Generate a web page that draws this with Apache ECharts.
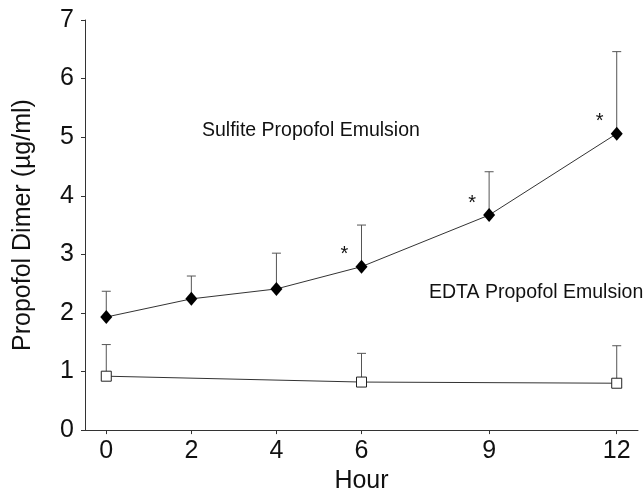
<!DOCTYPE html>
<html>
<head>
<meta charset="utf-8">
<script src="https://cdn.jsdelivr.net/npm/echarts@6.0.0/dist/echarts.min.js"></script>
<style>
  html, body { margin: 0; padding: 0; background: #fff; }
  #chart { width: 644px; height: 499px; }
</style>
</head>
<body>
<div id="chart"></div>
<script>
// hours and values
var hours = [0, 2, 4, 6, 9, 12];
var sulfiteMean = [1.93, 2.24, 2.41, 2.79, 3.67, 5.06];
var sulfiteTop  = [2.37, 2.63, 3.02, 3.50, 4.41, 6.46];
var sulfiteStar = [false, false, false, true, true, true];

var edtaHours = [0, 6, 12];
var edtaMean  = [0.92, 0.82, 0.80];
var edtaTop   = [1.46, 1.31, 1.44];

var yTicks = [0, 1, 2, 3, 4, 5, 6, 7];

var FONT = 'Liberation Sans, Arial, sans-serif';

var chart = echarts.init(document.getElementById('chart'));

// error bars, upward only, with a small cap
function errorBar(params, api) {
  var x = api.value(0);
  var lo = api.coord([x, api.value(1)]);
  var hi = api.coord([x, api.value(2)]);
  var cap = 4.5;
  var st = { stroke: '#555', lineWidth: 1 };
  return {
    type: 'group',
    children: [
      { type: 'line', shape: { x1: lo[0], y1: lo[1], x2: hi[0], y2: hi[1] }, style: st },
      { type: 'line', shape: { x1: hi[0] - cap, y1: hi[1], x2: hi[0] + cap, y2: hi[1] }, style: st }
    ]
  };
}

var sulfiteData = [], sulfiteErr = [];
for (var i = 0; i < hours.length; i++) {
  var item = { value: [hours[i], sulfiteMean[i]] };
  if (sulfiteStar[i]) {
    item.label = {
      show: true, formatter: '*', position: 'inside', offset: [-17, -12],
      fontSize: 20, color: '#111', fontFamily: FONT
    };
  }
  sulfiteData.push(item);
  sulfiteErr.push([hours[i], sulfiteMean[i], sulfiteTop[i]]);
}

var edtaData = [], edtaErr = [];
for (var j = 0; j < edtaHours.length; j++) {
  edtaData.push([edtaHours[j], edtaMean[j]]);
  edtaErr.push([edtaHours[j], edtaMean[j], edtaTop[j]]);
}

var option = {
  animation: false,
  backgroundColor: '#fff',
  grid: { left: 85, right: 6, top: 20, bottom: 68 },
  xAxis: {
    type: 'value', min: -0.5, max: 12.5,
    name: 'Hour', nameLocation: 'middle', nameGap: 36,
    nameTextStyle: { fontSize: 25, color: '#111', fontFamily: FONT },
    axisLine: { onZero: false, lineStyle: { color: '#333', width: 1 } },
    axisTick: { show: true, length: 4, customValues: hours, lineStyle: { color: '#333' } },
    axisLabel: { customValues: hours, fontSize: 25, color: '#111', margin: 9, fontFamily: FONT },
    splitLine: { show: false }
  },
  yAxis: {
    type: 'value', min: 0, max: 7, interval: 1,
    name: 'Propofol Dimer (\u00b5g/ml)', nameLocation: 'middle', nameGap: 49,
    nameTextStyle: { fontSize: 25, color: '#111', fontFamily: FONT },
    axisLine: { show: true, onZero: false, lineStyle: { color: '#333', width: 1 } },
    axisTick: { show: true, length: 4, customValues: yTicks, lineStyle: { color: '#333' } },
    axisLabel: { customValues: yTicks, fontSize: 25, color: '#111', margin: 11, fontFamily: FONT },
    splitLine: { show: false }
  },
  graphic: [
    { type: 'text', left: 202, top: 121, style: { text: 'Sulfite Propofol Emulsion', fontSize: 19.5, fill: '#111', fontFamily: FONT } },
    { type: 'text', left: 429, top: 283, style: { text: 'EDTA Propofol Emulsion', fontSize: 19.5, fill: '#111', fontFamily: FONT } }
  ],
  series: [
    { type: 'custom', name: 'sulfiteErr', renderItem: errorBar, data: sulfiteErr, z: 1 },
    { type: 'custom', name: 'edtaErr', renderItem: errorBar, data: edtaErr, z: 1 },
    {
      type: 'line', name: 'Sulfite', data: sulfiteData, z: 3,
      symbol: 'diamond', symbolSize: [12, 14],
      lineStyle: { color: '#333', width: 1 },
      itemStyle: { color: '#000', borderColor: '#000', borderWidth: 0 }
    },
    {
      type: 'line', name: 'EDTA', data: edtaData, z: 3,
      symbol: 'rect', symbolSize: 10,
      lineStyle: { color: '#333', width: 1 },
      itemStyle: { color: '#fff', borderColor: '#222', borderWidth: 1 }
    }
  ]
};

chart.setOption(option);
</script>
</body>
</html>
